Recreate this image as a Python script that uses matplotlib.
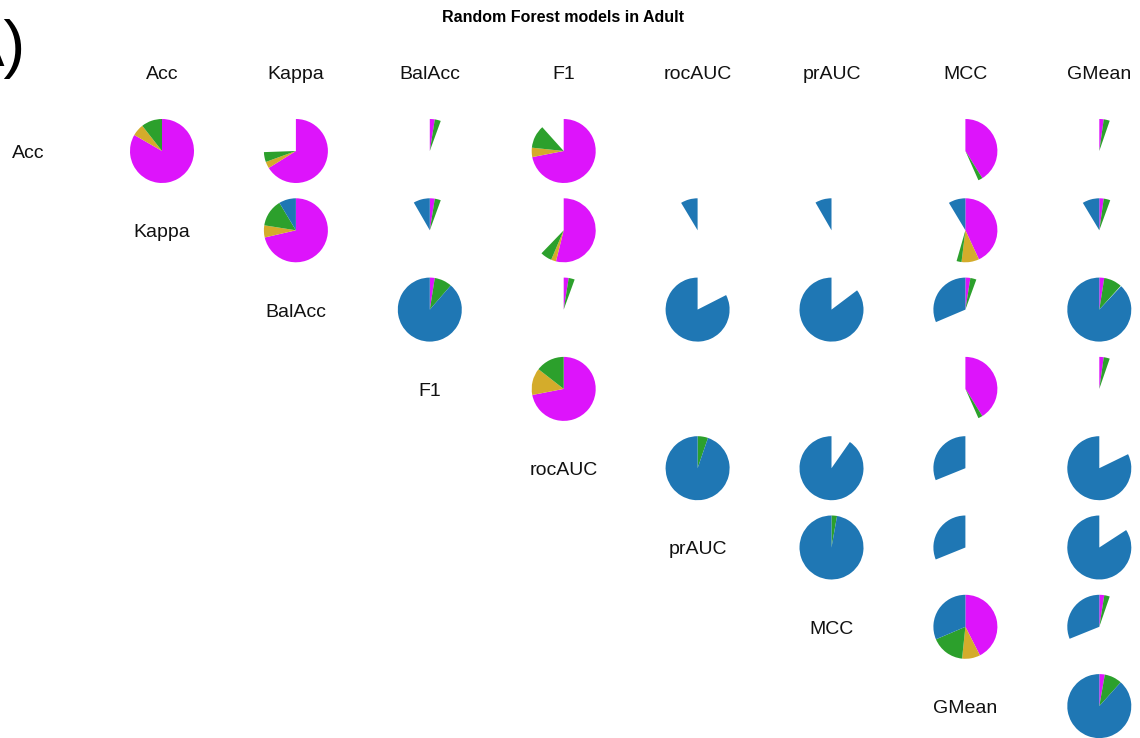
import numpy as np
import matplotlib
matplotlib.use("Agg")
import matplotlib.pyplot as plt
from matplotlib.patches import Wedge

plt.rcParams['font.family'] = ['Liberation Sans', 'DejaVu Sans']

metrics = ["Acc", "Kappa", "BalAcc", "F1", "rocAUC", "prAUC", "MCC", "GMean"]
title = "Random Forest models in Adult"

# wedge sizes in degrees, drawn clockwise from 12 o'clock:
# magenta, then gold, then green; blue ends at 12 o'clock
magenta = [
    [300, 238, 9, 259, 0, 0, 148, 8],
    [0, 257, 9, 194, 0, 0, 155, 8],
    [0, 0, 9, 9, 0, 0, 9, 9],
    [0, 0, 0, 259, 0, 0, 148, 8],
    [0, 0, 0, 0, 0, 0, 0, 0],
    [0, 0, 0, 0, 0, 0, 0, 0],
    [0, 0, 0, 0, 0, 0, 153, 9],
    [0, 0, 0, 0, 0, 0, 0, 10],
]
gold = [
    [22, 12, 0, 17, 0, 0, 0, 0],
    [0, 22, 0, 9, 0, 0, 32, 0],
    [0, 0, 0, 0, 0, 0, 0, 0],
    [0, 0, 0, 49, 0, 0, 0, 0],
    [0, 0, 0, 0, 0, 0, 0, 0],
    [0, 0, 0, 0, 0, 0, 0, 0],
    [0, 0, 0, 0, 0, 0, 33, 0],
    [0, 0, 0, 0, 0, 0, 0, 0],
]
green = [
    [38, 18, 11, 42, 0, 0, 8, 11],
    [0, 50, 11, 21, 0, 0, 9, 12],
    [0, 0, 32, 11, 0, 0, 11, 33],
    [0, 0, 0, 52, 0, 0, 8, 11],
    [0, 0, 0, 0, 19, 0, 0, 0],
    [0, 0, 0, 0, 0, 10, 0, 0],
    [0, 0, 0, 0, 0, 0, 61, 10],
    [0, 0, 0, 0, 0, 0, 0, 32],
]
blue = [
    [0, 0, 0, 0, 0, 0, 0, 0],
    [0, 31, 30, 0, 31, 30, 31, 31],
    [0, 0, 319, 0, 297, 307, 113, 317],
    [0, 0, 0, 0, 0, 0, 0, 0],
    [0, 0, 0, 0, 341, 325, 112, 296],
    [0, 0, 0, 0, 0, 350, 112, 303],
    [0, 0, 0, 0, 0, 0, 113, 112],
    [0, 0, 0, 0, 0, 0, 0, 318],
]

colors = {"magenta": "#DD14FB", "gold": "#D4AC2B", "green": "#2CA02C", "blue": "#1F77B4"}

W, H = 1140, 738
fig = plt.figure(figsize=(W / 100, H / 100), dpi=100)
ax = fig.add_axes([0, 0, 1, 1])
ax.set_xlim(0, W)
ax.set_ylim(0, H)
ax.axis("off")

x0, dx = 162, 133.9
y0, dy = H - 151, 79.3
r = 32


def cw_wedge(cx, cy, a1, a2, color):
    # a1, a2: degrees clockwise from 12 o'clock
    if a2 - a1 <= 0:
        return
    ax.add_patch(Wedge((cx, cy), r, 90 - a2, 90 - a1, facecolor=color,
                       edgecolor="none", antialiased=True))


n = len(metrics)
for i in range(n):
    for j in range(i, n):
        cx = x0 + j * dx
        cy = y0 - i * dy
        m, g, gr, b = magenta[i][j], gold[i][j], green[i][j], blue[i][j]
        cw_wedge(cx, cy, 0, m, colors["magenta"])
        cw_wedge(cx, cy, m, m + g, colors["gold"])
        cw_wedge(cx, cy, m + g, m + g + gr, colors["green"])
        cw_wedge(cx, cy, 360 - b, 360, colors["blue"])

# column labels and row labels (row labels sit one column left of the diagonal)
off = 2.5
for j, name in enumerate(metrics):
    ax.text(x0 + j * dx, y0 + dy - off, name, ha="center", va="center", fontsize=14, color="#111111")
for i, name in enumerate(metrics):
    ax.text(x0 + (i - 1) * dx, y0 - i * dy - off, name, ha="center", va="center", fontsize=14, color="#111111")

ax.text(563, H - 18, title, ha="center", va="center", fontsize=11.5, fontweight="bold")
# panel letter, partly off the left edge as in the original
ax.text(26, H - 49, "A)", ha="right", va="center", fontsize=47)

fig.savefig("out.png", dpi=100)
